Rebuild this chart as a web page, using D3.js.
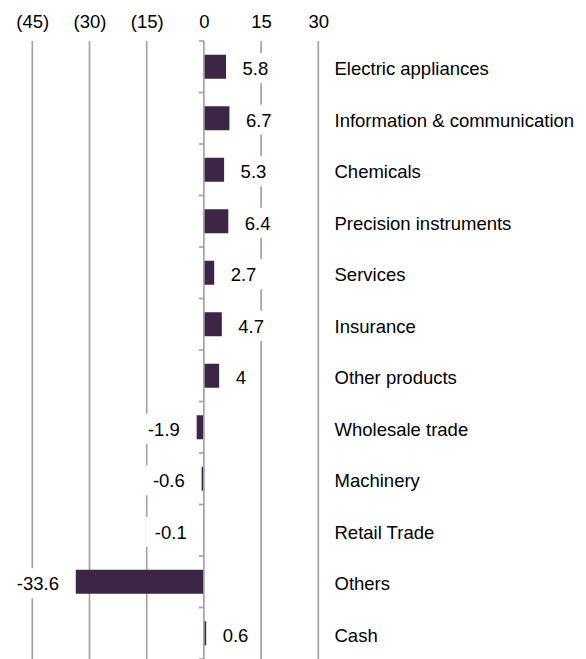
<!DOCTYPE html>
<html>
<head>
<meta charset="utf-8">
<script src="https://cdn.jsdelivr.net/npm/d3@7"></script>
<style>
  html, body { margin: 0; padding: 0; background: #fff; }
  svg { display: block; }
  text { font-family: "Liberation Sans", Arial, sans-serif; }
</style>
</head>
<body>
<svg id="chart" width="586" height="659"></svg>
<script>
const categories = [
  "Electric appliances",
  "Information & communication",
  "Chemicals",
  "Precision instruments",
  "Services",
  "Insurance",
  "Other products",
  "Wholesale trade",
  "Machinery",
  "Retail Trade",
  "Others",
  "Cash"
];
const values = [5.8, 6.7, 5.3, 6.4, 2.7, 4.7, 4, -1.9, -0.6, -0.1, -33.6, 0.6];
const tickValues = [-45, -30, -15, 0, 15, 30];
const tickLabels = ["(45)", "(30)", "(15)", "0", "15", "30"];

const data = categories.map((c, i) => ({ cat: c, v: values[i] }));

const FONT = 18.5;
const barColor = "#3d2645";
const gridColor = "#a3a3a3";

const svg = d3.select("#chart");

const x = d3.scaleLinear().domain([-45, 30]).range([32.3, 318.3]);
const pad = 0.534;
const y = d3.scaleBand().domain(categories).range([41, 659])
  .paddingInner(pad).paddingOuter(pad / 2);
const step = y.step();
const center = c => y(c) + y.bandwidth() / 2;

// grid lines (excluding zero)
svg.append("g").selectAll("line")
  .data(tickValues.filter(t => t !== 0))
  .join("line")
  .attr("x1", d => x(d)).attr("x2", d => x(d))
  .attr("y1", 41).attr("y2", 659)
  .attr("stroke", gridColor).attr("stroke-width", 1.7);

// tick labels on top
const xAxis = d3.axisTop(x).tickValues(tickValues)
  .tickFormat((d, i) => tickLabels[i]).tickSize(0).tickPadding(0);
const gx = svg.append("g").attr("transform", "translate(0,27.5)").call(xAxis);
gx.select(".domain").remove();
gx.attr("font-size", FONT).attr("font-family", '"Liberation Sans", Arial, sans-serif');
gx.selectAll("text").attr("fill", "#000");

// value labels with white boxes
const lblG = svg.append("g");
data.forEach(d => {
  const cy = center(d.cat);
  const t = lblG.append("text")
    .attr("font-size", FONT)
    .attr("fill", "#000")
    .attr("y", cy + 8.3)
    .text(String(d.v));
  if (d.v >= 0) {
    t.attr("x", x(d.v) + 16.5).attr("text-anchor", "start");
  } else {
    t.attr("x", x(d.v) - 16.8).attr("text-anchor", "end");
  }
  const bb = t.node().getBBox();
  lblG.insert("rect", () => t.node())
    .attr("x", bb.x - 9)
    .attr("width", bb.width + 18)
    .attr("y", cy + 1.5 - 15)
    .attr("height", 30)
    .attr("fill", "#fff");
});

// bars
svg.append("g").selectAll("rect")
  .data(data)
  .join("rect")
  .attr("x", d => Math.min(x(0), x(d.v)))
  .attr("width", d => Math.abs(x(d.v) - x(0)))
  .attr("y", d => y(d.cat))
  .attr("height", y.bandwidth())
  .attr("fill", barColor);

// zero axis line with ticks at category boundaries
const boundaries = categories.map(c => y(c) - (step - y.bandwidth()) / 2).concat([659]);
const axG = svg.append("g");
axG.append("line")
  .attr("x1", x(0)).attr("x2", x(0))
  .attr("y1", 41).attr("y2", 659)
  .attr("stroke", gridColor).attr("stroke-width", 1.7);
axG.selectAll("line.tk")
  .data(boundaries)
  .join("line").attr("class", "tk")
  .attr("x1", x(0) - 5).attr("x2", x(0))
  .attr("y1", d => d).attr("y2", d => d)
  .attr("stroke", gridColor).attr("stroke-width", 1.7);

// category labels
svg.append("g").selectAll("text")
  .data(data)
  .join("text")
  .attr("x", 334.5)
  .attr("y", d => center(d.cat) + 8.3)
  .attr("font-size", FONT)
  .attr("fill", "#000")
  .text(d => d.cat);
</script>
</body>
</html>
